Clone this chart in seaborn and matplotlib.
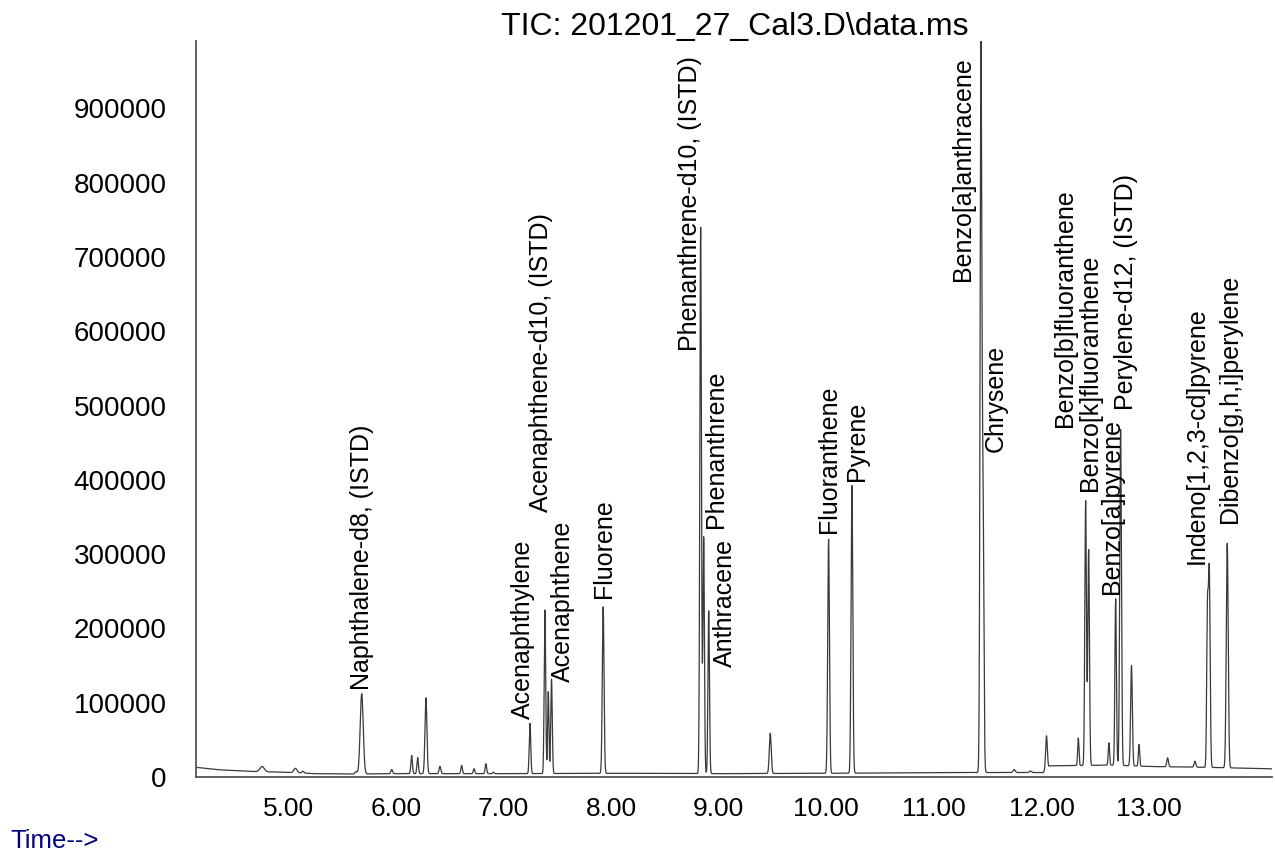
import numpy as np
import pandas as pd
import matplotlib
matplotlib.use("Agg")
import matplotlib.pyplot as plt
from matplotlib.ticker import MultipleLocator, FixedLocator, FuncFormatter
from matplotlib.transforms import ScaledTranslation
import seaborn as sns

# Baseline drift of the total ion current (time in min, abundance in counts)
baseline_time = [4.096, 4.30, 4.60, 4.90, 5.20, 5.50, 6.00, 7.00, 8.00, 9.00,
                 10.00, 11.00, 11.97, 12.03, 12.60, 13.00, 13.50, 14.096]
baseline_level = [13000, 9800, 7500, 6500, 4500, 4000, 4500, 4500, 5000, 4500,
                  5000, 6000, 6000, 15000, 16000, 14000, 13000, 11000]

# Identified PAH peaks: name, retention time (min), height above baseline, peak sigma (min)
compound_names = [
    "Naphthalene-d8, (ISTD)", "Acenaphthylene", "Acenaphthene-d10, (ISTD)",
    "Acenaphthene", "Fluorene", "Phenanthrene-d10, (ISTD)", "Phenanthrene",
    "Anthracene", "Fluoranthene", "Pyrene", "Benzo[a]anthracene", "Chrysene",
    "Benzo[b]fluoranthene", "Benzo[k]fluoranthene", "Benzo[a]pyrene",
    "Perylene-d12, (ISTD)", "Indeno[1,2,3-cd]pyrene", "Dibenzo[g,h,i]perylene",
]
compound_rt = [5.636, 7.200, 7.339, 7.400, 7.880, 8.786, 8.814, 8.861, 9.975,
               10.192, 11.391, 11.410, 12.364, 12.392, 12.643, 12.689, 13.513, 13.680]
compound_height = [108000, 67500, 220000, 127000, 224000, 735000, 318000, 219000,
                   315000, 387000, 965000, 357000, 356000, 290000, 224000, 452000,
                   262000, 302000]
compound_sigma = [0.014, 0.007, 0.007, 0.007, 0.008, 0.0075, 0.007, 0.007, 0.008,
                  0.008, 0.008, 0.008, 0.0075, 0.0075, 0.007, 0.008, 0.008, 0.009]

# Unlabelled peaks
minor_rt = [4.71, 5.02, 5.09, 5.583, 5.915, 6.100, 6.156, 6.233, 6.363, 6.565,
            6.680, 6.790, 6.860, 7.370, 9.433, 11.700, 11.850, 12.000, 12.296,
            12.580, 12.790, 12.860, 13.126, 13.380, 13.496]
minor_height = [7000, 6000, 2500, 3000, 5500, 24600, 21500, 102000, 9800, 11000,
                6700, 13400, 2000, 110000, 54000, 4000, 2000, 45000, 37000,
                30000, 135000, 29000, 12000, 8000, 200000]
minor_sigma = [0.02, 0.015, 0.01, 0.01, 0.008, 0.007, 0.007, 0.009, 0.008, 0.007,
               0.007, 0.007, 0.007, 0.006, 0.009, 0.01, 0.01, 0.008, 0.006,
               0.006, 0.008, 0.006, 0.008, 0.008, 0.007]

# Label placement relative to each peak apex (pixels)
label_dx = [0, -7, -4, 11, 1, -11, 12, 16, 0, 5, -18, 13, -21, 1, -4, 5, -13, 3]
label_dy = [4, 4, 98, -3, 9, -124, 9, -56, 6, 5, -241, 13, 74, 59, 5, 20, 1, 20]

# Build the total ion chromatogram from baseline plus peaks
time = np.arange(4.096, 14.0965, 0.001)
signal = np.interp(time, baseline_time, baseline_level).astype(float)
for rt, h, s in zip(compound_rt + minor_rt, compound_height + minor_height,
                    compound_sigma + minor_sigma):
    signal += h * np.exp(-0.5 * ((time - rt) / s) ** 2)
tic = pd.DataFrame({"time": time, "abundance": signal})

sns.set_theme(style="white")
plt.rcParams["font.family"] = ["Liberation Sans", "DejaVu Sans"]

W, H = 1275, 852
fig = plt.figure(figsize=(W / 100, H / 100), dpi=100)
ax = fig.add_axes([196 / W, 1 - 777 / H, (1272 - 196) / W, (777 - 41) / H])

sns.lineplot(data=tic, x="time", y="abundance", ax=ax, color="#3a3a3a",
             linewidth=0.9, errorbar=None, sort=False)

ax.set_xlim(4.096, 14.096)
ax.set_ylim(0, 990600)
ax.set_xlabel("")
ax.set_ylabel("")

sns.despine(ax=ax)
for side in ("left", "bottom"):
    ax.spines[side].set_color("#555555")
    ax.spines[side].set_linewidth(1.3)

ax.xaxis.set_major_locator(FixedLocator([5, 6, 7, 8, 9, 10, 11, 12, 13]))
ax.xaxis.set_minor_locator(MultipleLocator(0.2))
ax.xaxis.set_major_formatter(FuncFormatter(lambda v, _: f"{v:.2f}"))
ax.yaxis.set_major_locator(MultipleLocator(100000))
ax.yaxis.set_minor_locator(MultipleLocator(20000))
ax.yaxis.set_major_formatter(FuncFormatter(lambda v, _: f"{int(round(v))}"))

ax.tick_params(axis="x", which="major", direction="out", length=8.6, width=1.1,
               color="#333333", labelsize=19, pad=5.5, labelcolor="black")
ax.tick_params(axis="x", which="minor", direction="out", length=4.5, width=1.0,
               color="#333333")
ax.tick_params(axis="y", which="major", direction="out", length=2.5, width=1.1,
               color="#333333", labelsize=20, pad=18.5, labelcolor="black")
ax.tick_params(axis="y", which="minor", direction="out", length=1.5, width=1.0,
               color="#333333")
ax.grid(False)

# ChemStation-style label nudges
shift_x = ScaledTranslation(-5 / 100, 0, fig.dpi_scale_trans)
for tick in ax.xaxis.get_major_ticks():
    tick.label1.set_transform(tick.label1.get_transform() + shift_x)
zero_tick = ax.yaxis.get_major_ticks()[0]
zero_tick.label1.set_transform(zero_tick.label1.get_transform()
                               + ScaledTranslation(20 / 100, 0, fig.dpi_scale_trans))

# Compound names above their peaks
for name, rt, dx, dy in zip(compound_names, compound_rt, label_dx, label_dy):
    apex = signal[np.argmin(np.abs(time - rt))]
    ax.annotate(name, xy=(rt, apex), xytext=(dx, dy), textcoords="offset pixels",
                rotation=90, ha="center", va="bottom", fontsize=18, color="black",
                annotation_clip=False)

fig.text(735 / W, 1 - 35 / H, r"TIC: 201201_27_Cal3.D\data.ms", ha="center",
         va="baseline", fontsize=23, color="black")
fig.text(10 / W, 4 / H, "Time-->", ha="left", va="baseline", fontsize=18.5,
         color="#000080")

fig.savefig("out.png", dpi=100, facecolor="white")
